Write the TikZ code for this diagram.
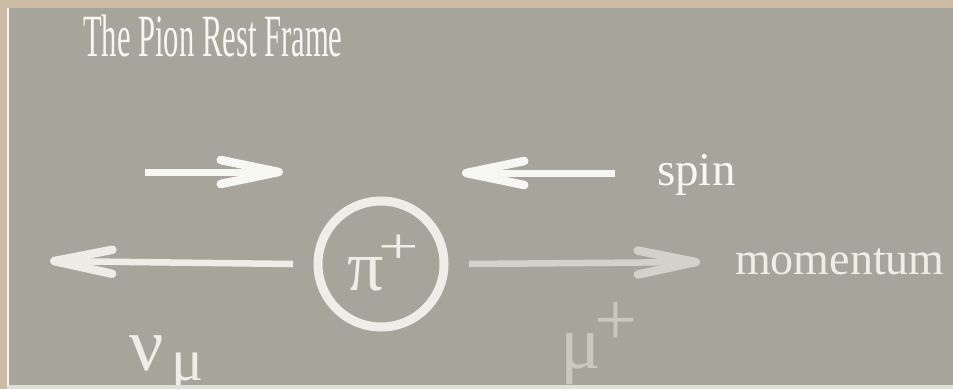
\documentclass[tikz,border=0pt]{standalone}
\usepackage{fontspec}
\setmainfont{Liberation Serif}
\usepackage{graphicx}
\usepackage{xcolor}
\definecolor{frametan}{HTML}{CCBBA5}
\definecolor{slidebg}{HTML}{A7A49C}
\definecolor{edgelight}{HTML}{DEE0DA}
\definecolor{spinwhite}{HTML}{F6F6F3}
\definecolor{nuwhite}{HTML}{EDECE7}
\definecolor{muwhite}{HTML}{D3D1CA}
\definecolor{mulabel}{HTML}{CBC8C0}
\definecolor{labelwhite}{HTML}{EEEDE8}
\usetikzlibrary{arrows.meta, positioning}

\begin{document}
\begin{tikzpicture}[
        x=1pt, y=-1pt,
        textlabel/.style={
            anchor=base west,
            inner sep=0pt,
            text=labelwhite
        },
        spinarrow/.style={
            -{Straight Barb[length=58pt, width=24pt, line width=8.5pt, round]},
            draw=spinwhite,
            line width=7pt
        },
        momarrow/.style={
            -{Straight Barb[length=58pt, width=24pt, line width=8.5pt, round]},
            line width=6.5pt
        },
        pionring/.style={
            circle,
            draw=labelwhite,
            line width=9pt,
            minimum size=126pt,
            inner sep=0pt,
            outer sep=25pt
        }
    ]

    % Frame
    \useasboundingbox (0,0) rectangle (953,389);
    \fill[frametan] (0,0) rectangle (953,389);
    \fill[spinwhite] (7,8) rectangle (9,389);
    \fill[slidebg] (9,8) rectangle (953,385);

    % Title
    \node[textlabel, text=spinwhite] (title) at (83,56)
        {\scalebox{0.51}[1]{\fontsize{60}{62}\selectfont The Pion Rest Frame}};

    % Nodes
    \node[pionring] (pion) at (381,264) {};
    \node[textlabel] (pi) at (347,290) {\fontsize{72}{72}\selectfont π};
    \node[text=labelwhite, inner sep=0pt] (piplus) at (399,249)
        {\scalebox{1}[0.7]{\fontsize{72}{72}\selectfont +}};

    \node[textlabel, text=spinwhite] (spin) at (657,185) {\fontsize{47}{50}\selectfont spin};
    \node[textlabel] (momentum) at (735,274) {\fontsize{46}{50}\selectfont momentum};

    \node[textlabel] (nu) at (129,370) {\fontsize{76}{76}\selectfont ν};
    \node[textlabel] (nusub) at (171,380) {\fontsize{60}{60}\selectfont μ};
    \node[textlabel, text=mulabel] (mu) at (560,368) {\fontsize{76}{76}\selectfont μ};
    \node[text=mulabel, inner sep=0pt] (muplus) at (616,324) {\fontsize{76}{76}\selectfont +};

    % Arrow ends
    \coordinate (spinLtail) at (145,172);
    \coordinate (spinLtip) at (283,172);
    \coordinate (spinRtail) at (615,173);
    \coordinate (spinRtip) at (462,173);
    \coordinate (nutip) at (50,261);
    \coordinate (mutip) at (700,262);

    % Arrows
    \draw[spinarrow] (spinLtail) -- (spinLtip);
    \draw[spinarrow] (spinRtail) -- (spinRtip);
    \draw[momarrow, draw=nuwhite] (pion.west) -- (nutip);
    \draw[momarrow, draw=muwhite] (pion.east) -- (mutip);

    % Bottom edge
    \fill[edgelight] (7,385) rectangle (953,389);

\end{tikzpicture}
\end{document}
